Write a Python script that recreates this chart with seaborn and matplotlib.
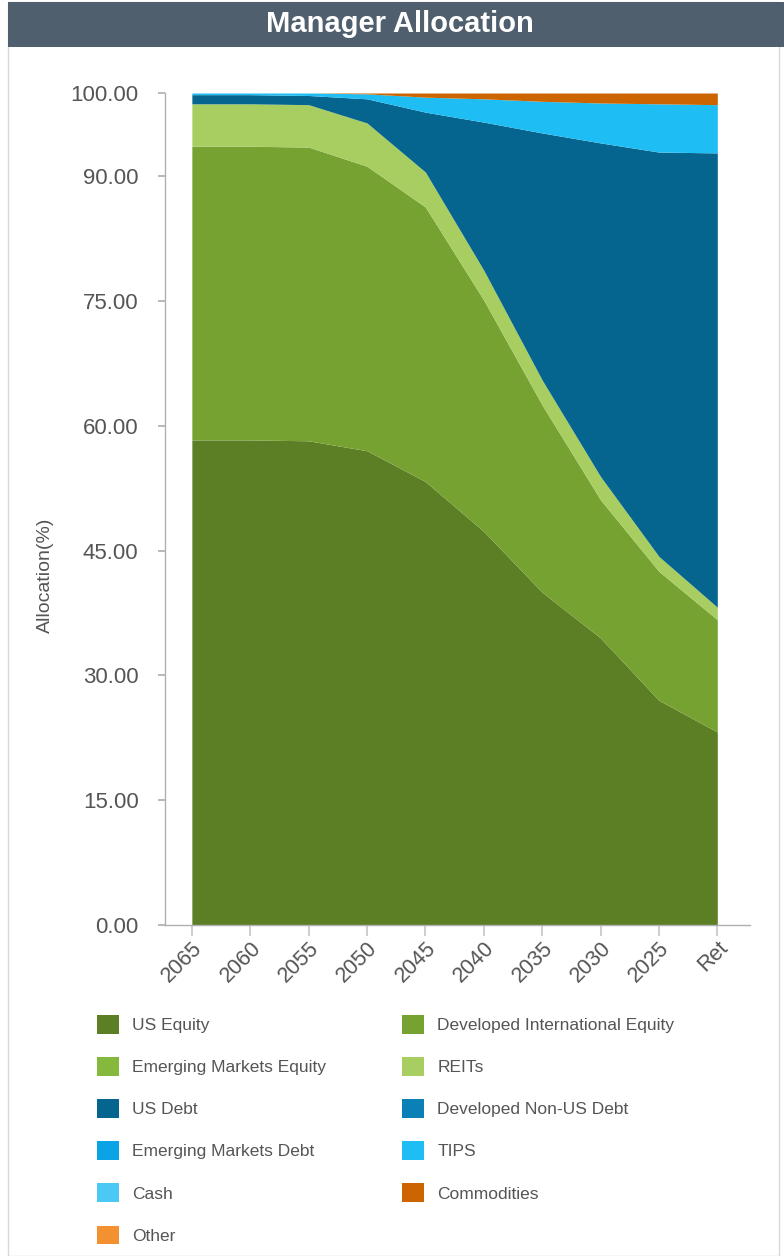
import pandas as pd
import matplotlib.pyplot as plt
import seaborn as sns
from matplotlib.patches import Rectangle, Patch
from matplotlib.ticker import FormatStrFormatter

vintages = ['2065', '2060', '2055', '2050', '2045', '2040', '2035', '2030', '2025', 'Ret']

us_equity = [58.3, 58.3, 58.2, 57.0, 53.3, 47.3, 40.0, 34.5, 27.0, 23.2]
dev_intl_equity = [35.3, 35.3, 35.3, 34.2, 33.0, 27.8, 22.5, 16.6, 15.5, 13.5]
em_equity = [0, 0, 0, 0, 0, 0, 0, 0, 0, 0]
reits = [5.1, 5.1, 5.1, 5.2, 4.2, 3.6, 3.0, 2.8, 1.8, 1.5]
us_debt = [1.1, 1.1, 1.1, 2.9, 7.2, 17.8, 29.7, 40.1, 48.6, 54.6]
dev_nonus_debt = [0, 0, 0, 0, 0, 0, 0, 0, 0, 0]
em_debt = [0, 0, 0, 0, 0, 0, 0, 0, 0, 0]
tips = [0.2, 0.2, 0.3, 0.6, 1.8, 2.8, 3.8, 4.8, 5.8, 5.8]
cash = [0, 0, 0, 0, 0, 0, 0, 0, 0, 0]
commodities = [0, 0, 0, 0.1, 0.5, 0.7, 1.0, 1.2, 1.3, 1.4]
other = [0, 0, 0, 0, 0, 0, 0, 0, 0, 0]

classes = ['US Equity', 'Developed International Equity', 'Emerging Markets Equity', 'REITs',
           'US Debt', 'Developed Non-US Debt', 'Emerging Markets Debt', 'TIPS',
           'Cash', 'Commodities', 'Other']

df = pd.DataFrame(
    [us_equity, dev_intl_equity, em_equity, reits, us_debt, dev_nonus_debt,
     em_debt, tips, cash, commodities, other],
    index=classes, columns=vintages)

colors = sns.color_palette(['#5c7f26', '#76a232', '#84b93d', '#a8ce62',
                            '#06658e', '#0b80b6', '#0aa3e6', '#1ebef5',
                            '#4cc8f5', '#cc6500', '#f39030'])

sns.set_theme(style='white')
plt.rcParams['font.family'] = ['Liberation Sans', 'DejaVu Sans']

fig = plt.figure(figsize=(7.84, 12.56), dpi=100)

# panel border and title bar
fig.patches.append(Rectangle((8 / 784, 0), 771 / 784, 1254 / 1256, transform=fig.transFigure,
                             facecolor='none', edgecolor='#d8d8d8', lw=1))
fig.patches.append(Rectangle((8 / 784, 1209 / 1256), 1 - 8 / 784, 45 / 1256,
                             transform=fig.transFigure, facecolor='#4f5f6e', edgecolor='none'))
fig.text(0.51, 1232 / 1256, 'Manager Allocation', color='white', fontsize=21,
         fontweight='bold', ha='center', va='center')

ax = fig.add_axes([165 / 784, 331 / 1256, 585 / 784, 832 / 1256])
x = range(len(vintages))
ax.stackplot(x, df.values, colors=colors, linewidth=0)

ax.set_xlim(-0.46, 9.56)
ax.set_ylim(0, 100)
ax.set_yticks([0, 15, 30, 45, 60, 75, 90, 100])
ax.yaxis.set_major_formatter(FormatStrFormatter('%.2f'))
ax.set_xticks(list(x))
ax.set_xticklabels(vintages, rotation=45, ha='right', rotation_mode='anchor')
ax.tick_params(axis='y', length=5, color='#b0b0b0', labelsize=16, labelcolor='#555555', pad=14, left=True)
ax.tick_params(axis='x', length=8, color='#c8c8c8', labelsize=15.5, labelcolor='#555555', pad=1, bottom=True)
ax.set_ylabel('Allocation(%)', fontsize=14, color='#555555')
ax.yaxis.set_label_coords(-0.19, 0.42)

sns.despine(ax=ax)
for s in ['left', 'bottom']:
    ax.spines[s].set_color('#b0b0b0')
    ax.spines[s].set_linewidth(1)

# legend in row order: two columns
handles = [Patch(facecolor=c, edgecolor='none') for c in colors]
order = [0, 2, 4, 6, 8, 10, 1, 3, 5, 7, 9]
fig.legend([handles[i] for i in order], [classes[i] for i in order],
           ncol=2, loc='upper left', bbox_to_anchor=(81 / 784, 1 - 999 / 1256),
           frameon=False, fontsize=12.5, labelcolor='#555555',
           handlelength=1.3, handleheight=1.3, handletextpad=0.75,
           labelspacing=1.34, columnspacing=4.35)

fig.savefig('out.png', dpi=100)
